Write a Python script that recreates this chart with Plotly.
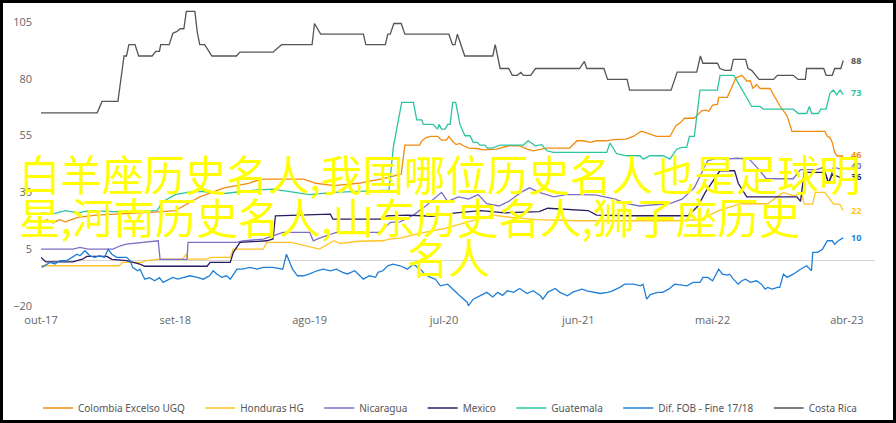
import plotly.graph_objects as go

# ---- data (x = months since Oct-2017, y = value) ----
tick_months = [0, 11, 22, 33, 44, 55, 66]
tick_labels = ["out-17", "set-18", "ago-19", "jul-20", "jun-21", "mai-22", "abr-23"]
y_ticks = [-20, 5, 30, 55, 80, 105]

series_names = ["Colombia Excelso UGQ", "Honduras HG", "Nicaragua", "Mexico",
                "Guatemala", "Dif. FOB - Fine 17/18", "Costa Rica"]
series_colors = ["#F28C0F", "#FFC425", "#7E6EC4", "#2B1B63", "#2EC4A0", "#1F7FD6", "#555555"]
end_labels = ["46", "22", "40", "36", "73", "10", "88"]

colombia = [(0,17),(0.5,18),(1,16.5),(1.5,18),(2,17),(3,19),(4.5,20),(6,20.5),(8,21),(10,21.5),(11,22),
            (12,25),(13,28),(14,30),(15,32),(17,34),(18,35.8),(21.5,35.8),(22.5,34),(24,33),(26,34),(28,36),
            (29.5,38),(29.8,50.8),(31.0,50.8),(31.2,52.7),(31.5,54),(31.9,54.6),(32.5,54.6),(32.8,53),(33.2,53),
            (33.4,54.6),(33.7,52.5),(34.0,51),(34.3,51.5),(34.6,50.5),(35.0,49.5),(35.7,49.3),(36.2,48.7),(37.3,49),
            (37.9,49.8),(38.3,50.5),(39.2,50.5),(39.8,49),(40.3,48.3),(41.4,49.5),(43.3,49.5),(43.6,51.2),(43.9,52.7),
            (44.4,52.7),(45.0,52),(45.5,52.7),(46.3,52.7),(46.9,53.2),(47.9,53.4),(48.5,54.6),(49.1,56.7),(49.3,56.7),
            (49.9,55.5),(50.4,54.6),(51.5,54.6),(52.0,59.3),(52.4,60.8),(52.7,62.6),(53.5,62.6),(53.7,63.7),(54.1,65.9),
            (54.4,66.2),(54.7,65.7),(55.0,68.4),(55.4,68.7),(55.5,71.8),(56.2,71.8),(56.5,75.4),(56.9,80.3),(57.4,81.5),
            (57.8,79),(58.1,79),(58.3,75.7),(58.6,77.5),(58.9,75.7),(59.7,75.7),(60.5,68.1),(61.1,63.7),(61.5,56.8),
            (64.2,56.8),(64.4,54.6),(64.6,54.2),(64.8,52),(65.0,47.6),(65.2,46),(65.7,46)]

honduras = [(0,-2.3),(6.4,-2.3),(6.7,-0.8),(8.3,-0.8),(8.6,0),(9.8,0.6),(11.6,0.6),(11.9,2.8),(12.0,0.6),
            (13.5,0.6),(14.0,1.4),(15.5,1.4),(15.75,5),(18.2,5),(18.5,8),(20.5,8),(22.8,5),(23.3,6.5),(24.0,8.7),
            (24.5,7.5),(26.0,8.5),(28.0,8.7),(28.5,9.4),(29.5,10),(31,12),(33,14),(35,17),(37,20),(38.5,19),
            (40.5,18),(44,17.5),(48,17.5),(52,17.5),(54,18),(55.5,22),(57.3,25),(59.5,25),(60.8,30),(61.6,28.5),
            (62.3,29.6),(62.5,24.8),(63.2,24.8),(63.4,30),(64.2,30),(64.6,27),(64.9,24.8),(65.4,24.8),(65.7,22)]

nicaragua = [(0,5),(2.6,5),(3.2,5.8),(3.85,5),(5.9,5),(6.5,6.5),(7.0,7.2),(8.35,8),(9.6,8.7),(9.75,0.5),
             (11.96,0.5),(12.04,8),(16.05,8),(16.5,8.7),(18.2,9.4),(19.0,10.9),(19.8,12.4),(22.0,12.4),(22.3,8.7),
             (22.85,10),(23.7,11.5),(24.2,12.4),(27.8,12.4),(28.6,16.8),(29.4,17),(30.5,20),(31.5,24),(32.8,30),
             (33.3,26),(34.2,28),(35,27),(35.8,29),(36.5,25),(37.5,24),(38.3,26),(39.3,30),(40,32),(40.8,30),
             (42,28),(43,29),(44.5,29),(45.5,28.8),(47,27),(48,25),(49,24),(50,24.5),(51.5,25),(52.5,27),
             (53.5,32),(54.6,44),(55.4,45),(56,44.6),(57,45),(58,44.6),(58.8,40),(59.4,36),(61.6,36),(62.2,40),
             (63.5,40),(64.1,41),(64.5,34),(64.9,41),(65.7,40)]

mexico = [(0,1.4),(0.4,-0.6),(2.6,-0.6),(3.4,0.6),(3.75,1.8),(5.4,1.8),(5.8,0.5),(7.0,0),(8.1,-1.6),(8.5,-2.5),
          (13.6,-2.5),(13.85,-0.8),(15.5,-0.8),(15.75,3.6),(16.3,8),(18.5,8.7),(19.0,9.5),(19.2,19.7),(23.7,20.4),
          (23.9,18.2),(28.0,18.2),(28.3,19.7),(30,20),(32,19.5),(34,21),(36,22),(38,21),(40.8,21.5),(41.5,23),
          (44.8,22),(45.5,20),(48,19.7),(53,19.7),(53.8,24),(54.4,30),(55.6,39.5),(56.8,39.5),(57.1,34),(57.8,28),
          (61.9,28),(62.2,26),(62.5,38.8),(64.2,38.8),(64.5,34),(64.8,38),(65.7,36)]

guatemala = [(0,21),(1,20.5),(2,22),(3,21),(4,22),(6,21.5),(8,21.5),(9.5,22),(10,26),(11,29),(12,30),(13,30.5),
             (15,29.5),(17.5,31),(19,31.4),(21,30),(22,29),(24,30),(26,30.5),(28.5,31),(28.85,49.8),(29.54,69.6),
             (30.5,69.6),(30.77,61.9),(31.18,61.9),(31.31,59.9),(32.13,59.9),(32.46,57.8),(32.6,59.9),(32.8,57.8),
             (33.09,57.8),(33.31,59.9),(33.5,59.9),(33.72,69.6),(33.96,69.6),(34.31,59.9),(34.72,54.9),(35.13,54.9),
             (35.4,52),(35.73,52),(35.95,50.8),(36.36,50.8),(36.55,49.5),(36.96,49.5),(37.6,50.8),(39.5,50.8),
             (39.9,52.7),(40.2,51.5),(40.5,50.5),(41.0,51),(41.42,48.3),(41.96,47.6),(46.33,47.6),(46.6,51.7),
             (46.87,49),(47.14,47),(47.96,46.1),(49.06,46.1),(49.33,44.6),(49.88,46.1),(50.96,46.1),(51.5,44.6),
             (52.06,49),(52.47,49.8),(52.88,49.8),(53.1,54.6),(53.5,54.6),(53.97,75),(55.39,75),(55.61,81.5),
             (56.75,81.5),(57.38,75.4),(58.2,67.8),(58.88,67.8),(59.15,66.6),(61.61,66.6),(62.02,64.7),(62.71,64.7),
             (62.92,67.8),(63.12,64.7),(63.66,64.7),(63.86,66.6),(64.29,66.6),(64.62,73.7),(64.89,75),(65.17,72.9),
             (65.44,75),(65.7,73)]

dif_fob = [(0.06,-3),(0.74,-0.8),(1.15,-1.5),(1.56,0),(2.13,0),(2.54,1.4),(2.95,2.8),(3.19,2.1),(3.6,4.3),(4.0,2.1),
           (4.4,1.4),(4.8,2.1),(5.2,1.4),(5.5,5),(5.8,2.8),(6.2,1.4),(7.0,1.4),(7.3,0),(7.5,-3),(7.9,-4.5),(8.1,-3.8),
           (8.5,-8.2),(8.9,-7.5),(9.3,-8.9),(9.7,-7.5),(10.0,-9.6),(10.6,-8.2),(10.8,-7.4),(11.2,-8.2),(11.8,-7.4),
           (12.2,-6.7),(12.8,-7.4),(13.3,-8.2),(13.8,-6.7),(14.1,-4.5),(14.4,-5.9),(14.8,-7.4),(15.2,-6.7),(15.5,-8.2),
           (16.05,-3.8),(16.5,-3.8),(17.1,-3),(17.7,-3.8),(18.2,-3),(19.0,-3),(19.8,-3.8),(20.1,2.8),(20.6,-3.8),
           (21.0,-6.7),(21.5,-6.7),(22.0,-5.9),(22.6,-4.5),(23.1,-3.8),(23.7,-4.5),(24.2,-3.8),(24.7,-5.2),(25.1,-5.9),
           (25.7,-4.5),(26.1,-6.7),(26.4,-8.2),(26.9,-6.7),(27.4,-7.4),(27.6,-5.2),(28.0,-4.5),(28.4,-2.3),(28.8,-1.6),
           (29.4,-2.3),(30.0,-3.8),(30.5,-1.6),(31.2,-4.5),(31.4,-5.9),(31.9,-7.4),(32.3,-8.2),(32.7,-11.1),
           (33.3,-10.4),(33.7,-12.6),(34.3,-15.5),(34.9,-18.3),(35.0,-19.9),(35.4,-17),(36.0,-15.5),(36.5,-14),
           (37.0,-16),(37.4,-14),(37.8,-15.3),(38.2,-13.3),(38.7,-14),(39.2,-12.3),(39.8,-14.5),(40.3,-13.3),
           (40.9,-15.5),(41.1,-17),(41.5,-14),(42.1,-12.3),(42.5,-14),(43.1,-15.5),(43.6,-13.8),(44.3,-12.6),
           (44.7,-13.3),(45.2,-14),(45.8,-14.5),(46.4,-14),(46.8,-13.3),(47.4,-11.8),(47.8,-10.4),(48.5,-10.4),
           (49.1,-11.1),(49.3,-10.4),(49.6,-17),(49.9,-15),(50.5,-14),(50.9,-14),(51.4,-12.6),(51.9,-10.4),
           (52.3,-10.8),(52.9,-11.1),(53.4,-9.6),(53.97,-9.6),(54.2,-7.4),(54.6,-7.4),(55.0,-8.9),(55.5,-3.8),
           (55.8,-6),(56.2,-6.4),(56.4,-6),(56.7,-8.2),(57.1,-10.4),(57.4,-8.9),(57.7,-8.2),(58.1,-9.6),(58.6,-8.9),
           (59.0,-10.4),(59.3,-12.6),(59.5,-11.8),(59.9,-12.6),(60.3,-11.8),(60.5,-11.8),(60.8,-6),(61.1,-7.4),
           (61.6,-6),(62.2,-3.8),(62.7,-2.3),(63.1,-4.5),(63.2,3.6),(63.6,3.6),(64.0,5),(64.4,8.7),(64.8,8.7),
           (65.0,7.2),(65.3,8.7),(65.7,10)]

costa_rica = [(0,65),(4.6,65),(5.0,70),(6.3,70),(6.8,90),(7.0,90),(7.2,95),(7.7,95),(8.0,90),(9.1,90),(9.4,92),
              (9.7,92),(9.8,95),(10.5,95),(10.8,100),(11.1,100.7),(11.4,102),(11.7,102),(11.9,109.6),(12.6,109.6),
              (12.8,100.4),(13.0,95),(13.4,95),(14.0,90),(16.0,90),(16.3,91.7),(19.0,91.7),(19.7,95),(22.2,95),
              (22.4,104.3),(22.9,99.6),(26.4,99.6),(26.6,95),(28.2,95),(28.4,99.6),(28.6,99.6),(28.9,104.3),
              (29.5,104.3),(29.8,99.6),(33.4,99.6),(33.7,95),(33.9,95),(34.1,99.6),(34.7,90),(37.0,90),(37.2,95),
              (37.6,84.5),(38.3,84.5),(38.6,81.5),(39.0,81.5),(39.3,82.8),(39.5,81.5),(40.1,81.5),(40.5,84.5),
              (44.1,84.5),(44.5,87.6),(44.7,84.5),(46.1,84.5),(46.4,79.7),(48.0,79.7),(48.2,75),(51.6,75),(52.1,82.9),
              (53.7,82.9),(54.0,90),(54.2,86.8),(55.4,86.8),(55.6,84.5),(56.0,83.7),(56.5,83.7),(56.7,88.5),(57.7,88.5),
              (57.9,84.5),(58.2,83.7),(58.8,79.7),(60.0,79.7),(60.3,81.5),(61.6,81.5),(62.0,79.7),(62.6,79.7),
              (62.7,84.5),(64.1,84.5),(64.3,81.5),(64.8,81.5),(65.0,84.5),(65.5,84.5),(65.7,88)]

all_series = [colombia, honduras, nicaragua, mexico, guatemala, dif_fob, costa_rica]
label_yshift = [2, 0, 4.5, 2, 2, 0, 0]

title_lines = ["白羊座历史名人,我国哪位历史名人也是足球明",
               "星,河南历史名人,山东历史名人,狮子座历史",
               "名人"]

# ---- layout constants ----
W, H = 896, 423
ML, MR, MT, MB = 41, 21, 6, 117
PW, PH = W - ML - MR, H - MT - MB

def px_x(p):
    return (p - ML) / PW

def px_y(p):
    return (H - MB - p) / PH

fig = go.Figure()
pad = "\u00a0" * 4
for name, color, pts in zip(series_names, series_colors, all_series):
    fig.add_trace(go.Scatter(
        x=[p[0] for p in pts], y=[p[1] for p in pts], name=name + pad, mode="lines",
        line=dict(color=color, width=1.3), hoverinfo="skip"))

for color, pts, lab, ys in zip(series_colors, all_series, end_labels, label_yshift):
    fig.add_annotation(x=pts[-1][0], y=pts[-1][1], text="<b>%s</b>" % lab, showarrow=False,
                       xanchor="left", yanchor="middle", xshift=7, yshift=ys, borderpad=0,
                       font=dict(family="Open Sans", size=9, color=color))

line_pos = [(17, 173), (17, 216), (405, 256)]
for txt, (lx, ly) in zip(title_lines, line_pos):
    fig.add_annotation(x=px_x(lx), y=px_y(ly), xref="paper", yref="paper", text=txt,
                       showarrow=False, xanchor="left", yanchor="middle",
                       font=dict(family="Noto Sans CJK SC", size=41.5, color="#FFFF00"))

# black frame around the picture
fig.add_shape(type="rect", xref="paper", yref="paper",
              x0=px_x(0), x1=px_x(W), y0=px_y(H), y1=px_y(0),
              line=dict(color="black", width=6), fillcolor="rgba(0,0,0,0)", layer="above")

fig.update_layout(
    width=W, height=H, margin=dict(l=ML, r=MR, t=MT, b=MB, autoexpand=False),
    paper_bgcolor="white", plot_bgcolor="white",
    xaxis=dict(range=[0, 68.3], tickvals=tick_months, ticktext=tick_labels, showgrid=False,
               zeroline=False, showline=False, ticks="", ticklabelstandoff=6, automargin=False,
               tickfont=dict(family="Open Sans", size=11, color="#666")),
    yaxis=dict(range=[-20, 112], tickvals=y_ticks, showgrid=False, zeroline=True,
               zerolinecolor="#d4d4d4", zerolinewidth=1, showline=False, ticks="", automargin=False,
               ticklabelstandoff=8, tickfont=dict(family="Open Sans", size=11, color="#666")),
    legend=dict(orientation="h", xref="container", x=38 / W, xanchor="left",
                y=px_y(408), yanchor="middle",
                font=dict(family="Noto Sans", size=10, color="#555"), itemwidth=30,
                bgcolor="rgba(0,0,0,0)"),
    showlegend=True,
)

fig.write_html("out.html", config={"displayModeBar": False},
               post_script="document.body.style.margin='0';document.body.style.overflow='hidden';")
